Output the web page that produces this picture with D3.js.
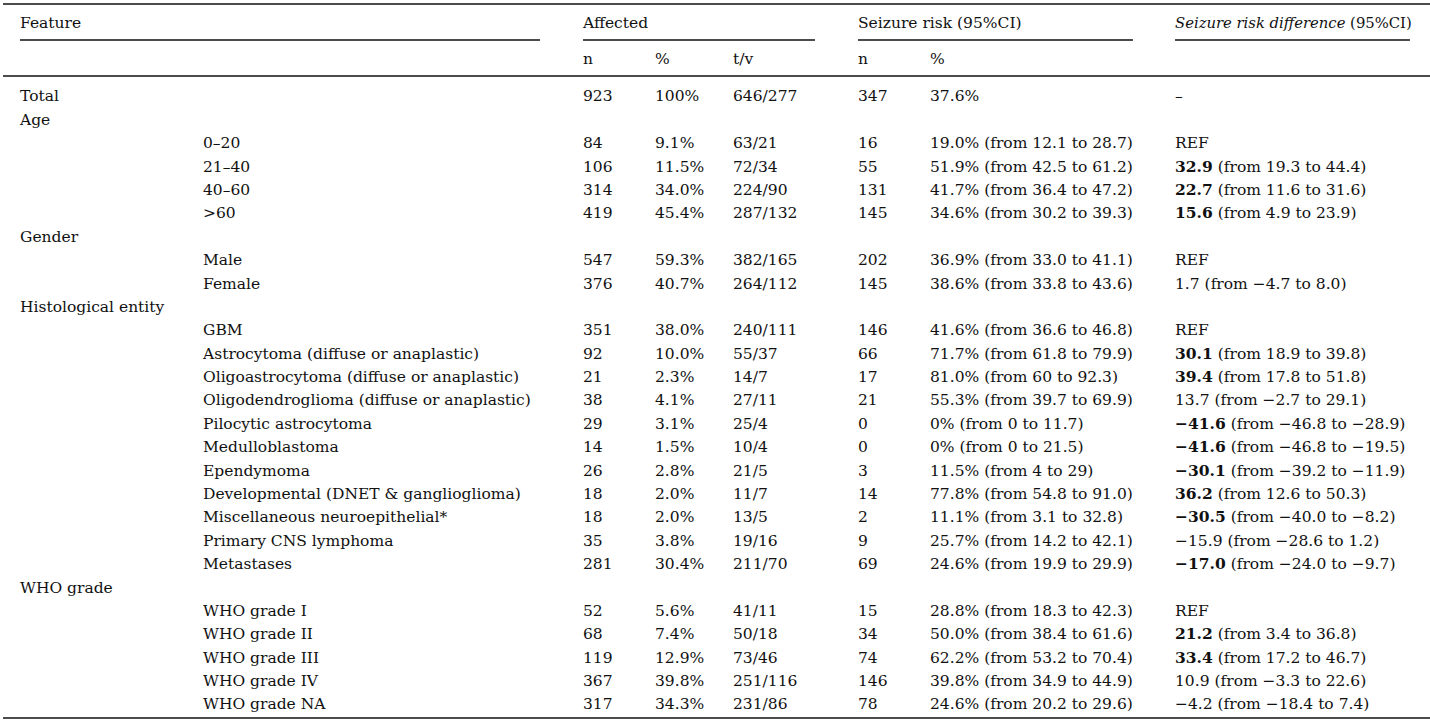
<!DOCTYPE html>
<html><head><meta charset="utf-8">
<script src="https://cdn.jsdelivr.net/npm/d3@7/dist/d3.min.js"></script>
<style>body{margin:0;background:#fff}svg{display:block}text{font-family:"DejaVu Serif",serif;font-size:15.5px;fill:#111}</style>
</head><body><svg id="c" width="1430" height="726"></svg>
<script>
const groupLabels = ["Total","Age","","","","","Gender","","","Histological entity","","","","","","","","","","","","WHO grade","","","","",""];
const subLabels = ["","","0–20","21–40","40–60",">60","","Male","Female","","GBM","Astrocytoma (diffuse or anaplastic)","Oligoastrocytoma (diffuse or anaplastic)","Oligodendroglioma (diffuse or anaplastic)","Pilocytic astrocytoma","Medulloblastoma","Ependymoma","Developmental (DNET & ganglioglioma)","Miscellaneous neuroepithelial*","Primary CNS lymphoma","Metastases","","WHO grade I","WHO grade II","WHO grade III","WHO grade IV","WHO grade NA"];
const affN = ["923","","84","106","314","419","","547","376","","351","92","21","38","29","14","26","18","18","35","281","","52","68","119","367","317"];
const affPct = ["100%","","9.1%","11.5%","34.0%","45.4%","","59.3%","40.7%","","38.0%","10.0%","2.3%","4.1%","3.1%","1.5%","2.8%","2.0%","2.0%","3.8%","30.4%","","5.6%","7.4%","12.9%","39.8%","34.3%"];
const affTV = ["646/277","","63/21","72/34","224/90","287/132","","382/165","264/112","","240/111","55/37","14/7","27/11","25/4","10/4","21/5","11/7","13/5","19/16","211/70","","41/11","50/18","73/46","251/116","231/86"];
const szN = ["347","","16","55","131","145","","202","145","","146","66","17","21","0","0","3","14","2","9","69","","15","34","74","146","78"];
const szPct = ["37.6%","","19.0% (from 12.1 to 28.7)","51.9% (from 42.5 to 61.2)","41.7% (from 36.4 to 47.2)","34.6% (from 30.2 to 39.3)","","36.9% (from 33.0 to 41.1)","38.6% (from 33.8 to 43.6)","","41.6% (from 36.6 to 46.8)","71.7% (from 61.8 to 79.9)","81.0% (from 60 to 92.3)","55.3% (from 39.7 to 69.9)","0% (from 0 to 11.7)","0% (from 0 to 21.5)","11.5% (from 4 to 29)","77.8% (from 54.8 to 91.0)","11.1% (from 3.1 to 32.8)","25.7% (from 14.2 to 42.1)","24.6% (from 19.9 to 29.9)","","28.8% (from 18.3 to 42.3)","50.0% (from 38.4 to 61.6)","62.2% (from 53.2 to 70.4)","39.8% (from 34.9 to 44.9)","24.6% (from 20.2 to 29.6)"];
const diffEst = ["–","","REF","32.9","22.7","15.6","","REF","1.7","","REF","30.1","39.4","13.7","−41.6","−41.6","−30.1","36.2","−30.5","−15.9","−17.0","","REF","21.2","33.4","10.9","−4.2"];
const diffCI = ["","","","(from 19.3 to 44.4)","(from 11.6 to 31.6)","(from 4.9 to 23.9)","","","(from −4.7 to 8.0)","","","(from 18.9 to 39.8)","(from 17.8 to 51.8)","(from −2.7 to 29.1)","(from −46.8 to −28.9)","(from −46.8 to −19.5)","(from −39.2 to −11.9)","(from 12.6 to 50.3)","(from −40.0 to −8.2)","(from −28.6 to 1.2)","(from −24.0 to −9.7)","","","(from 3.4 to 36.8)","(from 17.2 to 46.7)","(from −3.3 to 22.6)","(from −18.4 to 7.4)"];
const diffBold = [0,0,0,1,1,1,0,0,0,0,0,1,1,0,1,1,1,1,1,0,1,0,0,1,1,0,0];
const colKeys = ["group","sub","affN","affPct","affTV","szN","szPct","diff"];
const subHeaders = ["","","n","%","t/v","n","%",""];

const svg = d3.select("#c");
const x = d3.scaleOrdinal().domain(colKeys).range([20,203,583,655,733,858,930,1175]);
const idx = d3.range(groupLabels.length);
const y = d3.scalePoint().domain(idx).range([96,704]);

// rules
const rules = [
  {x1:3,x2:1430,y:4},{x1:20,x2:540,y:40},{x1:583,x2:815,y:40},{x1:858,x2:1133,y:40},{x1:1175,x2:1410,y:40},
  {x1:3,x2:1430,y:76},{x1:3,x2:1430,y:718}
];
svg.selectAll("line.r").data(rules).join("line").attr("x1",d=>d.x1).attr("x2",d=>d.x2)
  .attr("y1",d=>d.y).attr("y2",d=>d.y).attr("stroke","#111").attr("stroke-width",1.3);

// headers
const hdr = svg.append("g");
hdr.append("text").attr("x",x("group")).attr("y",23).attr("dy","0.35em").text("Feature");
hdr.append("text").attr("x",x("affN")).attr("y",23).attr("dy","0.35em").text("Affected");
hdr.append("text").attr("x",x("szN")).attr("y",23).attr("dy","0.35em").text("Seizure risk (95%CI)");
const h3 = hdr.append("text").attr("x",x("diff")).attr("y",23).attr("dy","0.35em").style("font-size","14.8px");
h3.append("tspan").attr("font-style","italic").text("Seizure risk difference");
h3.append("tspan").text(" (95%CI)");
hdr.selectAll("text.sh").data(colKeys.filter((k,i)=>subHeaders[i])).join("text")
  .attr("x",d=>x(d)).attr("y",59).attr("dy","0.35em").text(d=>subHeaders[colKeys.indexOf(d)]);

const cols = {group:groupLabels,sub:subLabels,affN,affPct,affTV,szN,szPct};
const body = svg.append("g");
Object.entries(cols).forEach(([k,arr])=>{
  body.selectAll("text."+k).data(idx.filter(i=>arr[i])).join("text").attr("class",k)
    .attr("x",x(k)).attr("y",i=>y(i)).attr("dy","0.35em").text(i=>arr[i]);
});
const dt = body.selectAll("text.diff").data(idx.filter(i=>diffEst[i])).join("text").attr("class","diff")
  .attr("x",x("diff")).attr("y",i=>y(i)).attr("dy","0.35em");
dt.append("tspan").attr("font-weight",i=>diffBold[i]?"bold":"normal").text(i=>diffEst[i]);
dt.append("tspan").text(i=>diffCI[i]?" "+diffCI[i]:"");
</script></body></html>
